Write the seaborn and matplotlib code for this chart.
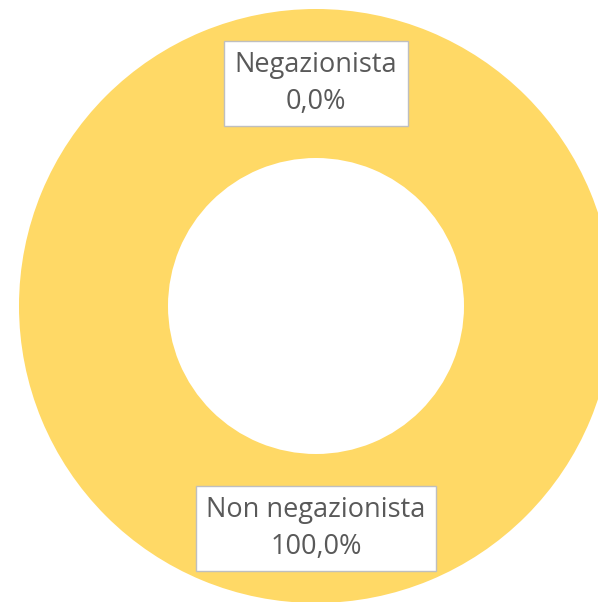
import numpy as np
import seaborn as sns
import matplotlib.pyplot as plt

# Data
categories = ["Negazionista", "Non negazionista"]
shares = [0.0, 100.0]
label_texts = ["0,0%", "100,0%"]

sns.set_theme(style="white")
plt.rcParams["font.family"] = ["Open Sans", "DejaVu Sans"]

colors = ["#FFD966", "#FFD966"]

fig = plt.figure(figsize=(5.98, 6.02), dpi=100)
ax = fig.add_axes([0, 0, 1, 1])

cx, cy = 316, 306
r_out, r_in = 297, 148

wedges, _ = ax.pie(shares, colors=colors, startangle=90, counterclock=False,
                   center=(cx, cy), radius=r_out,
                   wedgeprops=dict(width=r_out - r_in, linewidth=0))

ax.set_xlim(0, 598)
ax.set_ylim(602, 0)
ax.set_aspect("equal")
ax.axis("off")

# labels at the middle of each ring segment
r_mid = (r_out + r_in) / 2
for w, cat, txt in zip(wedges, categories, label_texts):
    ang = np.deg2rad((w.theta1 + w.theta2) / 2)
    # y axis is inverted, so the sine goes the other way
    x = cx + r_mid * np.cos(ang)
    y = cy - r_mid * np.sin(ang)
    ax.text(x, y, f"{cat}\n{txt}", ha="center", va="center", fontsize=19.5,
            color="#595959", linespacing=1.4,
            bbox=dict(boxstyle="square,pad=0.38", fc="white", ec="#BFBFBF", lw=1))

fig.savefig("out.png", dpi=100)
